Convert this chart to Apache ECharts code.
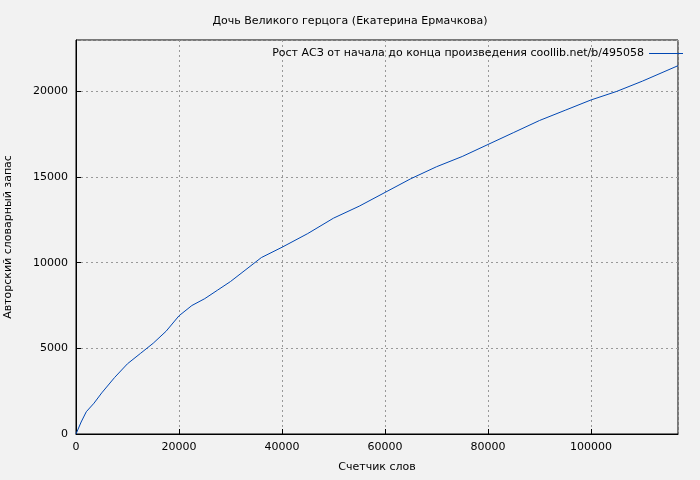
<!DOCTYPE html>
<html>
<head>
<meta charset="utf-8">
<script src="https://cdn.jsdelivr.net/npm/echarts@6/dist/echarts.min.js"></script>
<style>
html, body { margin: 0; padding: 0; background: #f2f2f2; }
#chart { width: 700px; height: 480px; }
</style>
</head>
<body>
<div id="chart"></div>
<script>
// счетчик слов / словарный запас
const wordCounts = [0, 1000, 2000, 3500, 5000, 7500, 10000, 12500, 15000, 17500, 20000, 22500, 25000, 27500, 30000, 33000, 36000, 40000, 45000, 50000, 55000, 60000, 65000, 70000, 75000, 80000, 85000, 90000, 95000, 100000, 105000, 110000, 116900];
const vocab = [0, 700, 1300, 1800, 2400, 3300, 4100, 4700, 5300, 6000, 6900, 7500, 7900, 8400, 8900, 9600, 10300, 10900, 11700, 12600, 13300, 14100, 14900, 15600, 16200, 16900, 17600, 18300, 18900, 19500, 20000, 20600, 21500];

const font = 'DejaVu Sans';
const chart = echarts.init(document.getElementById('chart'));

chart.setOption({
    backgroundColor: '#f2f2f2',
    animation: false,
    textStyle: { fontFamily: font },
    title: {
        text: 'Дочь Великого герцога (Екатерина Ермачкова)',
        left: 'center',
        top: 11,
        textStyle: { fontFamily: font, fontSize: 11, fontWeight: 'normal', color: '#000' }
    },
    legend: {
        right: 12,
        top: 43,
        itemWidth: 34,
        itemHeight: 1,
        icon: 'rect',
        align: 'right',
        textStyle: { fontFamily: font, fontSize: 11, color: '#000' },
        data: [{ name: 'Рост АСЗ от начала до конца произведения coollib.net/b/495058' }]
    },
    grid: { left: 76, right: 22, top: 40, bottom: 46, containLabel: false, outerBoundsMode: 'none', show: true, borderColor: '#000', borderWidth: 1, backgroundColor: '#f2f2f2' },
    xAxis: {
        type: 'value',
        min: 0,
        max: 116900,
        interval: 20000,
        name: 'Счетчик слов',
        nameLocation: 'middle',
        nameGap: 28,
        nameTextStyle: { fontFamily: font, fontSize: 11, color: '#000' },
        axisLine: { lineStyle: { color: '#000' } },
        axisTick: { inside: true, lineStyle: { color: '#000' } },
        axisLabel: { color: '#000', fontSize: 11, fontFamily: font, showMaxLabel: false, formatter: v => String(v) },
        splitLine: { lineStyle: { color: '#999', type: [2, 3] } }
    },
    yAxis: {
        type: 'value',
        min: 0,
        max: 23000,
        interval: 5000,
        name: 'Авторский словарный запас',
        nameLocation: 'middle',
        nameGap: 62,
        nameTextStyle: { fontFamily: font, fontSize: 11, color: '#000' },
        axisLine: { show: true, lineStyle: { color: '#000' } },
        axisTick: { inside: true, lineStyle: { color: '#000' } },
        axisLabel: { color: '#000', fontSize: 11, fontFamily: font, showMaxLabel: false, formatter: v => String(v) },
        splitLine: { lineStyle: { color: '#999', type: [2, 3] } }
    },
    series: [{
        name: 'Рост АСЗ от начала до конца произведения coollib.net/b/495058',
        type: 'line',
        data: wordCounts.map((w, i) => [w, vocab[i]]),
        showSymbol: false,
        lineStyle: { color: '#0047b3', width: 1 },
        itemStyle: { color: '#0047b3' }
    }]
});
</script>
</body>
</html>
